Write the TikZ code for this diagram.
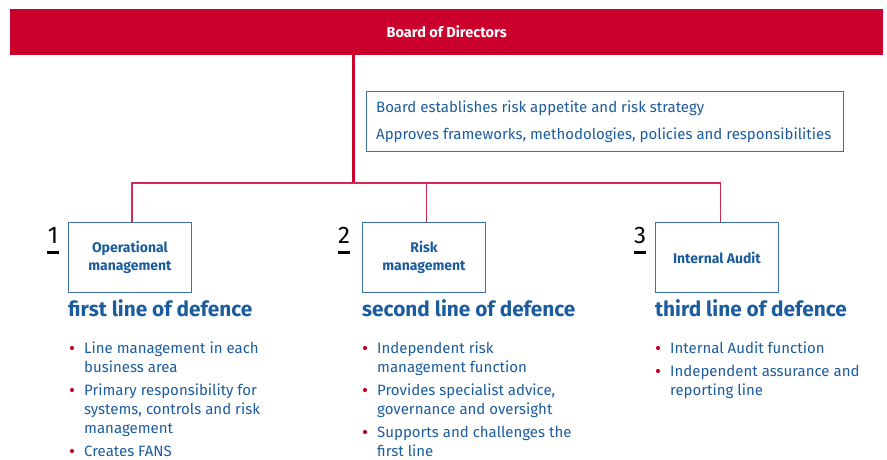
\documentclass[tikz,border=0pt]{standalone}
\usepackage{fontspec}
\setmainfont{Fira Sans}
\definecolor{brandred}{HTML}{CC002C}
\definecolor{linkred}{HTML}{D42A52}
\definecolor{brandblue}{HTML}{1B5C9E}
\definecolor{boxblue}{HTML}{3A6FA8}
\begin{document}
\begin{tikzpicture}[x=1pt,y=-1pt,
  header/.style={fill=brandred, inner sep=0, minimum width=873pt, minimum height=46pt,
    text=white, font=\fontsize{14.5}{16}\selectfont\bfseries},
  infobox/.style={draw=boxblue, line width=0.9pt, inner sep=0, minimum width=477pt, minimum height=60pt},
  infotext/.style={anchor=base west, inner sep=0, text=brandblue, font=\fontsize{15}{17}\selectfont},
  linebox/.style={draw=boxblue, line width=0.9pt, fill=white, inner sep=0, minimum width=123pt,
    minimum height=70pt, align=center, text=brandblue, font=\fontsize{14}{18}\selectfont\bfseries},
  linenum/.style={anchor=base, inner sep=0, font=\fontsize{24}{26}\selectfont},
  linehead/.style={anchor=base west, inner sep=0, text=brandblue, font=\fontsize{20.8}{22}\selectfont\bfseries},
  itemtext/.style={anchor=base west, inner sep=0, text=brandblue, font=\fontsize{15}{17}\selectfont},
  dot/.style={circle, fill=brandred, inner sep=0, minimum size=4.2pt},
  trunk/.style={draw=brandred, line width=3pt},
  branch/.style={draw=linkred, line width=1.3pt}]
\useasboundingbox (0,0) rectangle (887,459);

% board bar
\node[header, anchor=north west] (board) at (10,9) {Board of Directors};

% board responsibilities
\node[infobox, anchor=north west] (info) at (366,91) {};
\node[infotext] (info1) at (376,112) {Board establishes risk appetite and risk strategy};
\node[infotext] (info2) at (376,139) {Approves frameworks, methodologies, policies and responsibilities};

% the three lines of defence
\node[linebox, anchor=north west] (op)  at (68,222)  {Operational\\management};
\node[linebox, anchor=north west] (rm)  at (362,222) {Risk\\management};
\node[linebox, anchor=north west] (ia)  at (655,222) {Internal Audit};

% connectors: trunk from the board, branches dropping a little right of each box centre
\coordinate (hub) at (353,183);
\coordinate (opin) at ([xshift=2pt]op.north);
\coordinate (rmin) at ([xshift=2.5pt]rm.north);
\coordinate (iain) at ([xshift=3.5pt]ia.north);
\draw[trunk] (board.south -| hub) -- (hub);
\draw[branch] (opin) -- (opin |- hub) -- (iain |- hub) -- (iain);
\draw[branch] (rmin) -- (rmin |- hub);

% numbers with bars
\node[linenum] (n1) at (53,243) {1};
\node[linenum] (n2) at (344,243) {2};
\node[linenum] (n3) at (640,243) {3};
\foreach \n in {n1,n2,n3}
  \draw[line width=3pt] ([xshift=-6pt,yshift=-9pt]\n.base) -- ([xshift=6pt,yshift=-9pt]\n.base);

% headings
\node[linehead] (h1) at (68,316)  {first line of defence};
\node[linehead] (h2) at (362,316) {second line of defence};
\node[linehead] (h3) at (655,316) {third line of defence};

% first line items
\node[itemtext] (a1) at (84,353) {Line management in each};
\node[itemtext] (a2) at (84,372) {business area};
\node[itemtext] (a3) at (84,395) {Primary responsibility for};
\node[itemtext] (a4) at (84,414) {systems, controls and risk};
\node[itemtext] (a5) at (84,433) {management};
\node[itemtext] (a6) at (84,456) {Creates FANS};
\foreach \t in {a1,a3,a6} \node[dot] at ([xshift=-12pt,yshift=5pt]\t.base west) {};

% second line items
\node[itemtext] (b1) at (377,353) {Independent risk};
\node[itemtext] (b2) at (377,372) {management function};
\node[itemtext] (b3) at (377,395) {Provides specialist advice,};
\node[itemtext] (b4) at (377,414) {governance and oversight};
\node[itemtext] (b5) at (377,437) {Supports and challenges the};
\node[itemtext] (b6) at (377,456) {first line};
\foreach \t in {b1,b3,b5} \node[dot] at ([xshift=-12pt,yshift=5pt]\t.base west) {};

% third line items
\node[itemtext] (c1) at (670,353) {Internal Audit function};
\node[itemtext] (c2) at (670,376) {Independent assurance and};
\node[itemtext] (c3) at (670,395) {reporting line};
\foreach \t in {c1,c2} \node[dot] at ([xshift=-12pt,yshift=5pt]\t.base west) {};
\end{tikzpicture}
\end{document}
